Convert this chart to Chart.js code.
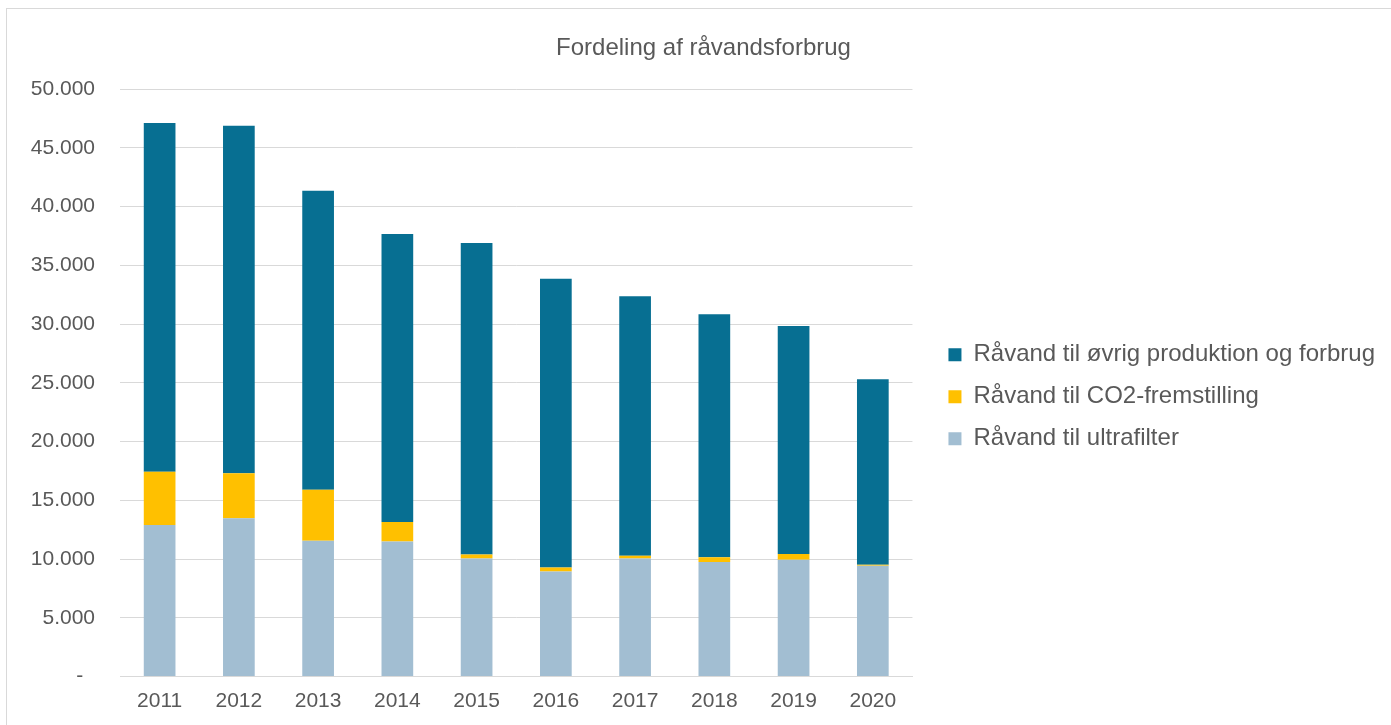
<!DOCTYPE html>
<html lang="da">
<head>
<meta charset="utf-8">
<title>Fordeling af råvandsforbrug</title>
<script src="https://cdn.jsdelivr.net/npm/chart.js@4.4.1/dist/chart.umd.min.js"></script>
<style>
  html, body { margin: 0; padding: 0; background: #fff; overflow: hidden; }
  #frame { position: absolute; left: 6px; top: 8px; width: 1500px; height: 800px; border: 1px solid #d9d9d9; }
  #wrap { position: absolute; left: 0; top: 0; width: 1391px; height: 725px; }
</style>
</head>
<body>
<div id="frame"></div>
<div id="wrap"><canvas id="chart" width="1391" height="725"></canvas></div>
<script>
// Data (m3)
const years = ['2011', '2012', '2013', '2014', '2015', '2016', '2017', '2018', '2019', '2020'];
const ultrafilter = [12890, 13460, 11560, 11500, 10050, 8940, 10050, 9740, 9940, 9430];
const co2 = [4540, 3830, 4340, 1640, 340, 340, 230, 400, 480, 80];
const oevrig = [29670, 29590, 25440, 24520, 26500, 24580, 22080, 20690, 19410, 15780];

const yTicks = [0, 5000, 10000, 15000, 20000, 25000, 30000, 35000, 40000, 45000, 50000];

const textColor = '#595959';
const gridColor = '#d9d9d9';
const fontFamily = '"Liberation Sans", Arial, sans-serif';

function formatThousands(v) {
  if (v === 0) return '-  ';
  return String(v).replace(/\B(?=(\d{3})+(?!\d))/g, '.');
}

// move legend and title to where Excel put them
const nudge = {
  id: 'nudge',
  afterLayout(chart) {
    const lg = chart.legend;
    if (lg) {
      lg.left += 18; lg.right += 18;
      lg.top += 14; lg.bottom += 14;
    }
    const t = chart.titleBlock;
    if (t) {
      t.left += 20; t.right += 20;
    }
  }
};

new Chart(document.getElementById('chart').getContext('2d'), {
  type: 'bar',
  data: {
    labels: years,
    datasets: [
      { label: 'Råvand til ultrafilter', data: ultrafilter, backgroundColor: '#a2bed2' },
      { label: 'Råvand til CO2-fremstilling', data: co2, backgroundColor: '#ffc000' },
      { label: 'Råvand til øvrig produktion og forbrug', data: oevrig, backgroundColor: '#076f92' }
    ]
  },
  options: {
    responsive: false,
    animation: false,
    layout: { padding: { left: 0, right: 24, top: 0, bottom: 0 } },
    datasets: {
      bar: { categoryPercentage: 1, barPercentage: 0.4 }
    },
    plugins: {
      title: {
        display: true,
        text: 'Fordeling af råvandsforbrug',
        color: textColor,
        font: { family: fontFamily, size: 24, weight: 'normal' },
        padding: { top: 34, bottom: 26.2 }
      },
      legend: {
        position: 'right',
        fullSize: false,
        reverse: true,
        maxWidth: 700,
        labels: {
          color: textColor,
          font: { family: fontFamily, size: 24 },
          boxWidth: 13,
          boxHeight: 13,
          padding: 18
        }
      },
      tooltip: { enabled: false }
    },
    scales: {
      x: {
        stacked: true,
        grid: { display: false, drawTicks: false },
        border: { display: true, color: gridColor, width: 1 },
        ticks: {
          color: textColor,
          font: { family: fontFamily, size: 21 },
          padding: 12,
          maxRotation: 0
        },
        afterFit(s) { s.height = 48.5; }
      },
      y: {
        stacked: true,
        min: 0,
        max: 50000,
        grid: { color: gridColor, drawTicks: false, lineWidth: 1 },
        border: { display: false },
        afterBuildTicks(s) { s.ticks = yTicks.map(v => ({ value: v })); },
        ticks: {
          color: textColor,
          font: { family: fontFamily, size: 21 },
          padding: 25,
          callback: v => formatThousands(v)
        },
        afterFit(s) { s.width = 120; }
      }
    }
  },
  plugins: [nudge]
});
</script>
</body>
</html>
